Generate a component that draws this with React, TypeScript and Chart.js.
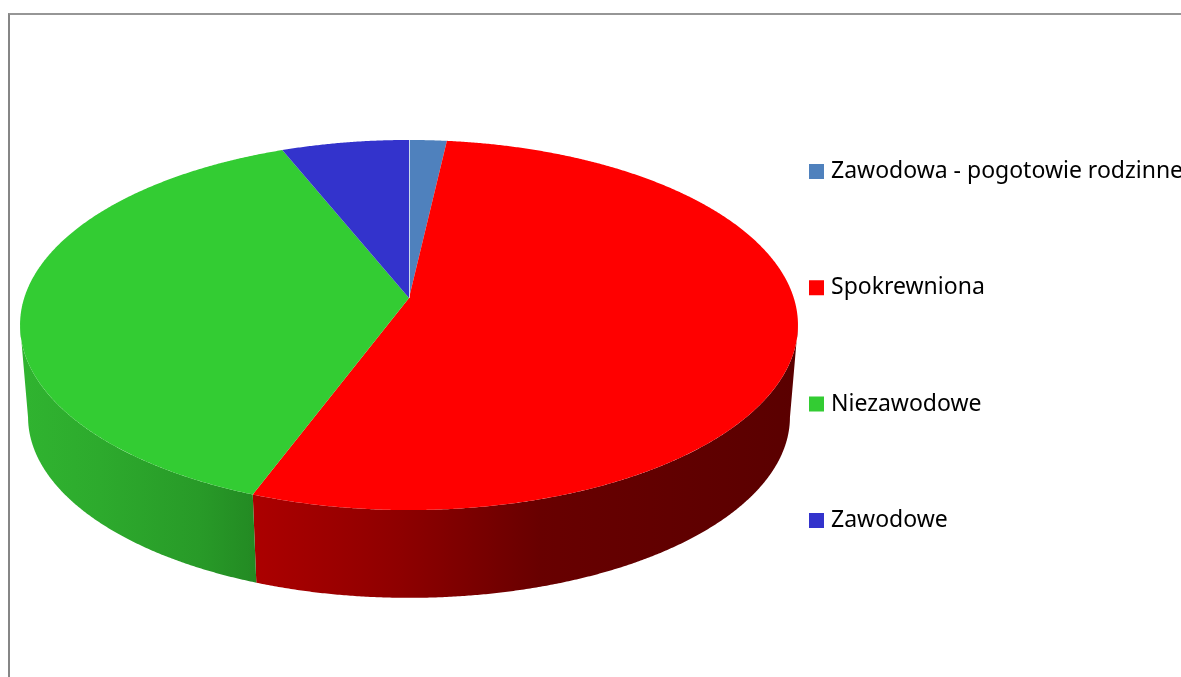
import { useEffect, useRef } from "react";
import { Chart, registerables } from "chart.js";

Chart.register(...registerables);

const categories = ["Zawodowa - pogotowie rodzinne", "Spokrewniona", "Niezawodowe", "Zawodowe"];
const shares = [1.8, 53.9, 38.2, 6.1];
const sliceColors = ["#4F81BD", "#FF0000", "#33CC33", "#3333CC"];

// Stops of the shaded outer wall per slice, [x in px, colour]
const wallShades: Record<number, [number, string][]> = {
  1: [[252, "#AC0000"], [400, "#8E0000"], [540, "#680000"], [798, "#5A0000"]],
  2: [[20, "#30B430"], [100, "#2DAA2D"], [200, "#289A28"], [255, "#238A23"]],
};

// Perspective projection of the disc faces: y = (a v + b) / (c v + 1), x = cx + k u / (c v + 1)
const topFace = { a: -137.6, b: 298, c: 0.146, k: 384.8 };
const bottomFace = { a: -121, b: 391, c: 0.1436, k: 377 };
const CX = 409;
type Face = typeof topFace;

const project = (f: Face, theta: number): [number, number] => {
  const u = Math.sin(theta);
  const v = Math.cos(theta);
  const d = f.c * v + 1;
  return [CX + (f.k * u) / d, (f.a * v + f.b) / d];
};

const rim = (f: Face, from: number, to: number) => {
  const out: [number, number][] = [];
  const n = Math.max(2, Math.ceil(Math.abs(to - from) / 0.005));
  for (let i = 0; i <= n; i++) out.push(project(f, from + ((to - from) * i) / n));
  return out;
};

const pie3d = {
  id: "pie3d",
  beforeDatasetDraw(chart: any) {
    const ctx: CanvasRenderingContext2D = chart.ctx;
    const arcs = chart.getDatasetMeta(0).data as any[];
    const lim0 = (98.4 * Math.PI) / 180;
    const lim1 = (261.6 * Math.PI) / 180;
    ctx.save();
    arcs.forEach((arc, i) => {
      const s = arc.startAngle + Math.PI / 2;
      const e = arc.endAngle + Math.PI / 2;
      const a = Math.max(s, lim0);
      const b = Math.min(e, lim1);
      const shade = wallShades[i];
      if (b <= a || !shade) return;
      const pts = [...rim(topFace, a, b), ...rim(bottomFace, b, a)];
      const x0 = shade[0][0];
      const x1 = shade[shade.length - 1][0];
      const g = ctx.createLinearGradient(x0, 0, x1, 0);
      shade.forEach(([x, c]) => g.addColorStop((x - x0) / (x1 - x0), c));
      ctx.beginPath();
      pts.forEach(([x, y], k) => (k ? ctx.lineTo(x, y) : ctx.moveTo(x, y)));
      ctx.closePath();
      ctx.fillStyle = g;
      ctx.fill();
    });
    arcs.forEach((arc, i) => {
      const s = arc.startAngle + Math.PI / 2;
      const e = arc.endAngle + Math.PI / 2;
      ctx.beginPath();
      ctx.moveTo(CX, topFace.b);
      rim(topFace, s, e).forEach(([x, y]) => ctx.lineTo(x, y));
      ctx.closePath();
      ctx.fillStyle = sliceColors[i];
      ctx.fill();
    });
    const [lx, ly] = project(topFace, arcs[0].startAngle + Math.PI / 2);
    ctx.beginPath();
    ctx.moveTo(CX + 0.5, topFace.b);
    ctx.lineTo(lx + 0.5, ly);
    ctx.strokeStyle = "rgba(255,255,255,0.7)";
    ctx.lineWidth = 1;
    ctx.stroke();
    ctx.restore();
    return false;
  },
};

const placeLegend = {
  id: "placeLegend",
  afterLayout(chart: any) {
    const l = chart.legend;
    const pad = l.options.labels.padding;
    const w = l.width;
    l.left = 813.5 - pad;
    l.right = l.left + w;
    l.top = 160 - pad;
    l.bottom = l.top + l.height;
  },
};

export default function App() {
  const ref = useRef<HTMLCanvasElement>(null);
  useEffect(() => {
    const chart = new Chart(ref.current!, {
      type: "pie",
      data: {
        labels: categories,
        datasets: [{ data: shares, backgroundColor: sliceColors, borderWidth: 0 }],
      },
      options: {
        responsive: false,
        animation: false,
        plugins: {
          tooltip: { enabled: false },
          legend: {
            position: "right",
            align: "start",
            labels: {
              usePointStyle: true,
              pointStyle: "rect",
              boxWidth: 6,
              boxHeight: 15,
              padding: 93.3,
              color: "#000000",
              font: { family: "'Noto Sans'", size: 23 },
            },
          },
        },
      },
      plugins: [pie3d, placeLegend],
    });
    return () => chart.destroy();
  }, []);
  return (
    <div style={{ position: "fixed", inset: 0, overflow: "hidden", background: "#fff" }}>
      <div
        style={{
          position: "absolute",
          left: 8,
          top: 13,
          width: 1400,
          height: 900,
          borderLeft: "2px solid #868686",
          borderTop: "2px solid #969696",
        }}
      />
      <canvas ref={ref} width={1181} height={677} style={{ position: "absolute", left: 0, top: 0 }} />
    </div>
  );
}
